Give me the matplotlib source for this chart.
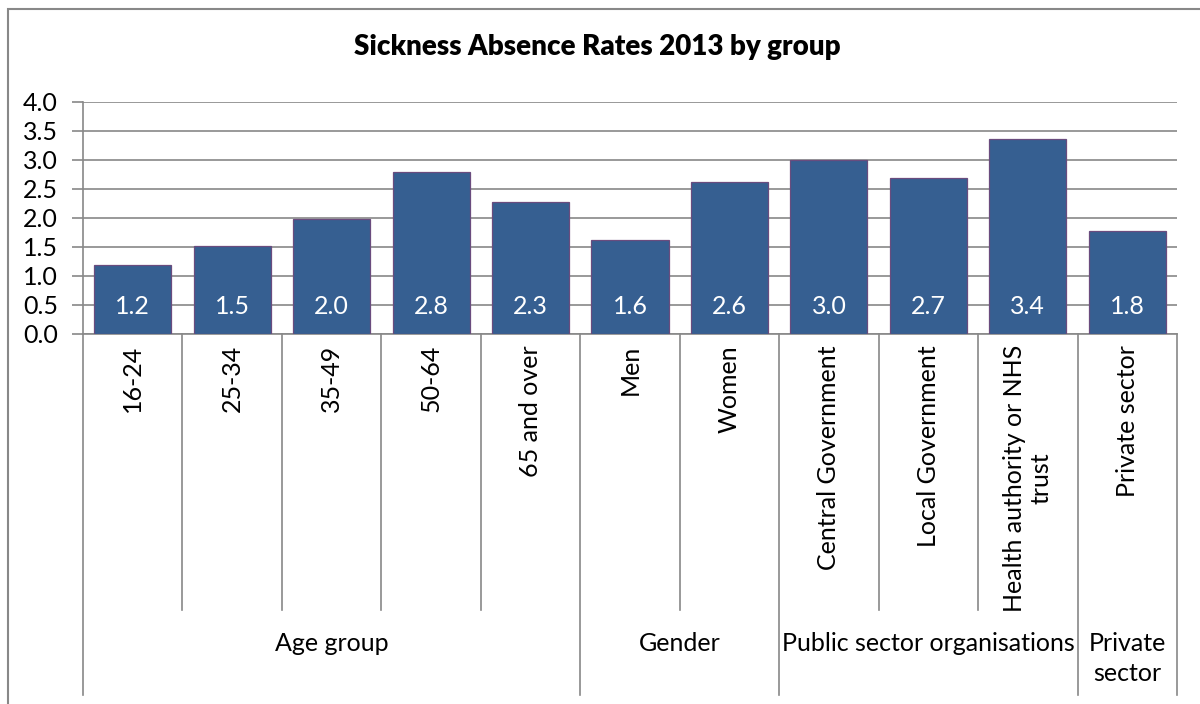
# Sickness absence rates 2013, grouped bar chart (Excel style)

import numpy as np
import matplotlib
matplotlib.use("Agg")
import matplotlib.pyplot as plt
import matplotlib.transforms as mtransforms
from matplotlib.patches import Rectangle

# data
categories = ["16-24", "25-34", "35-49", "50-64", "65 and over",
              "Men", "Women",
              "Central Government", "Local Government",
              "Health authority or NHS\ntrust",
              "Private sector"]
rates = [1.18, 1.52, 1.98, 2.79, 2.27, 1.61, 2.62, 2.99, 2.68, 3.36, 1.78]
labels = ["1.2", "1.5", "2.0", "2.8", "2.3", "1.6", "2.6", "3.0", "2.7", "3.4", "1.8"]
groups = ["Age group", "Gender", "Public sector organisations", "Private\nsector"]
group_sizes = [5, 2, 3, 1]

plt.rcParams["font.family"] = ["Lato", "DejaVu Sans"]

W, H = 1200, 704
fig = plt.figure(figsize=(12, 7.04), dpi=100)
ax = fig.add_axes([83 / W, 1 - 334 / H, (1177 - 83) / W, (334 - 101.7) / H])

grid_col = "#888888"
fs = 18
x = np.arange(len(categories))
ax.bar(x, rates, width=0.775, color="#365F91", edgecolor="#6A4C7E",
       linewidth=0.9, zorder=3)

for xi, lab in zip(x, labels):
    ax.text(xi, 0.47, lab, ha="center", va="center", color="white",
            fontsize=fs, zorder=4)

ax.set_xlim(-0.5, len(categories) - 0.5)
ax.set_ylim(0, 4)
ax.set_yticks(np.arange(0, 4.01, 0.5))
ax.set_yticklabels([f"{v:.1f}" for v in np.arange(0, 4.01, 0.5)], fontsize=fs)
ax.yaxis.grid(True, color=grid_col, linewidth=1.2, zorder=0)
ax.set_axisbelow(True)
ax.set_xticks([])
ax.tick_params(axis="y", length=8, width=1.2, color=grid_col, pad=10)
for s in ["top", "right"]:
    ax.spines[s].set_visible(False)
for s in ["left", "bottom"]:
    ax.spines[s].set_color(grid_col)
    ax.spines[s].set_linewidth(1.2)

# category labels and dividers below the axis
trans = mtransforms.blended_transform_factory(ax.transData, ax.transAxes)
px = 1 / (334 - 101.7)  # one pixel in axes fraction
for xi, cat in zip(x, categories):
    ax.text(xi, -11 * px, cat, rotation=90, ha="center", va="top",
            multialignment="center", fontsize=fs, transform=trans)

bounds = np.concatenate([[0], np.cumsum(group_sizes)]) - 0.5
for i in range(len(categories) + 1):
    xb = i - 0.5
    ybot = -(695 - 334) * px if xb in bounds else -(610 - 334) * px
    ax.plot([xb, xb], [0, ybot], color=grid_col, linewidth=1.2,
            transform=trans, clip_on=False)

for g, n, b in zip(groups, group_sizes, bounds[:-1]):
    ax.text(b + n / 2, -(632 - 334) * px, g, ha="center", va="top",
            fontsize=fs, transform=trans, linespacing=1.35)

fig.text(597 / W, 1 - 47 / H, "Sickness Absence Rates 2013 by group",
         ha="center", va="center", fontsize=20, fontweight="heavy")

fig.patches.append(Rectangle((8 / W, -0.1), 1.2, 1 - 9 / H + 0.1,
                             transform=fig.transFigure, fill=False,
                             edgecolor=grid_col, linewidth=1.5))

fig.savefig("out.png", dpi=100)
